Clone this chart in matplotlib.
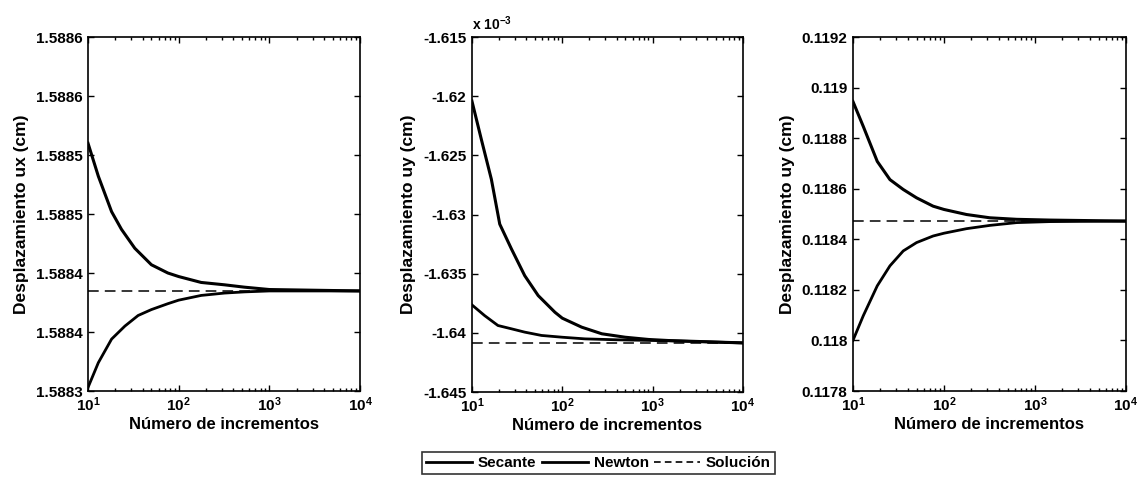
import numpy as np
import matplotlib
matplotlib.use('Agg')
import matplotlib.pyplot as plt
from matplotlib.lines import Line2D
from matplotlib.ticker import FixedLocator, FixedFormatter, LogLocator, NullFormatter

plt.rcParams['font.family'] = ['Liberation Sans', 'DejaVu Sans']
plt.rcParams['font.weight'] = 'bold'
plt.rcParams['mathtext.fontset'] = 'custom'
plt.rcParams['mathtext.rm'] = 'Liberation Sans:bold'
plt.rcParams['mathtext.bf'] = 'Liberation Sans:bold'
plt.rcParams['mathtext.it'] = 'Liberation Sans:bold'

# Panel 1: ux (cm)
ux_sec_x = [10, 13, 18.2, 23.4, 32.8, 50, 76, 100, 177, 320, 531, 1000, 10000]
ux_sec_y = [1.588510, 1.588482, 1.588452, 1.588437, 1.588421, 1.588407, 1.588400,
            1.588397, 1.588392, 1.588390, 1.588388, 1.588386, 1.5883848]
ux_new_x = [10, 13, 18.2, 25.5, 35.7, 50, 76, 100, 177, 320, 531, 1000, 10000]
ux_new_y = [1.588303, 1.588324, 1.588344, 1.588355, 1.588364, 1.588369, 1.588374,
            1.588377, 1.588381, 1.588383, 1.588384, 1.5883848, 1.5883848]
ux_sol = 1.5883848

# Panel 2: uy (cm), in units of 1e-3
uy1_sec_x = [10, 12.7, 16.4, 20.3, 27.4, 38.4, 54.1, 82.9, 100, 164, 274, 497, 903, 1507, 10000]
uy1_sec_y = [-1.62042, -1.62365, -1.62702, -1.63081, -1.63292, -1.63517, -1.63685,
             -1.63826, -1.63876, -1.63952, -1.64008, -1.64037, -1.64056, -1.64065, -1.64085]
uy1_new_x = [10, 13.8, 19.4, 27.4, 38.4, 58.9, 100, 179, 419, 1507, 10000]
uy1_new_y = [-1.63764, -1.63854, -1.63938, -1.63966, -1.63994, -1.64022, -1.64037,
             -1.64051, -1.64059, -1.64067, -1.64085]
uy1_sol = -1.64085

# Panel 3: uy (cm)
uy2_sec_x = [10, 13, 18.5, 25.5, 35.7, 50, 76, 100, 177, 320, 630, 1460, 10000]
uy2_sec_y = [0.118945, 0.118846, 0.118708, 0.118636, 0.118597, 0.118564, 0.118531,
             0.118518, 0.118498, 0.118485, 0.118479, 0.118476, 0.118472]
uy2_new_x = [10, 13, 18.5, 25.5, 35.7, 50, 76, 100, 177, 320, 630, 1460, 10000]
uy2_new_y = [0.118000, 0.118098, 0.118216, 0.118295, 0.118354, 0.118387, 0.118413,
             0.118424, 0.118442, 0.118455, 0.118466, 0.118470, 0.118472]
uy2_sol = 0.118472

x_label = 'Número de incrementos'
y_labels = ['Desplazamiento ux (cm)', 'Desplazamiento uy (cm)', 'Desplazamiento uy (cm)']
y_limits = [(1.5883, 1.5886), (-1.645, -1.615), (0.1178, 0.1192)]
y_ticks = [
    [1.5883, 1.58835, 1.5884, 1.58845, 1.5885, 1.58855, 1.5886],
    [-1.645, -1.64, -1.635, -1.63, -1.625, -1.62, -1.615],
    [0.1178, 0.118, 0.1182, 0.1184, 0.1186, 0.1188, 0.119, 0.1192],
]
y_ticklabels = [
    ['1.5883', '1.5884', '1.5884', '1.5885', '1.5885', '1.5886', '1.5886'],
    ['-1.645', '-1.64', '-1.635', '-1.63', '-1.625', '-1.62', '-1.615'],
    ['0.1178', '0.118', '0.1182', '0.1184', '0.1186', '0.1188', '0.119', '0.1192'],
]
x_ticks = [10, 100, 1000, 10000]
x_ticklabels = [r'$10^{1}$', r'$10^{2}$', r'$10^{3}$', r'$10^{4}$']

series = [
    (ux_sec_x, ux_sec_y, ux_new_x, ux_new_y, ux_sol),
    (uy1_sec_x, uy1_sec_y, uy1_new_x, uy1_new_y, uy1_sol),
    (uy2_sec_x, uy2_sec_y, uy2_new_x, uy2_new_y, uy2_sol),
]

fig = plt.figure(figsize=(11.4, 4.8), dpi=100)
positions = [
    [0.0772, 0.1854, 0.2386, 0.7375],
    [0.4140, 0.1833, 0.2377, 0.7396],
    [0.7482, 0.1854, 0.2395, 0.7375],
]

for i, (sx, sy, nx, ny, sol) in enumerate(series):
    ax = fig.add_axes(positions[i])
    ax.plot([10, 10000], [sol, sol], color='black', lw=1.1, ls=(0, (7, 4)))
    ax.plot(sx, sy, color='black', lw=2.2, solid_joinstyle='round')
    ax.plot(nx, ny, color='black', lw=2.0, solid_joinstyle='round')
    ax.set_xscale('log')
    ax.set_xlim(10, 10000)
    ax.set_ylim(*y_limits[i])
    ax.xaxis.set_major_locator(FixedLocator(x_ticks))
    ax.xaxis.set_major_formatter(FixedFormatter(x_ticklabels))
    ax.xaxis.set_minor_locator(LogLocator(base=10, subs=np.arange(2, 10)))
    ax.xaxis.set_minor_formatter(NullFormatter())
    ax.yaxis.set_major_locator(FixedLocator(y_ticks[i]))
    ax.yaxis.set_major_formatter(FixedFormatter(y_ticklabels[i]))
    ax.tick_params(which='both', direction='in', top=True, right=True, width=1.0)
    ax.tick_params(axis='y', labelsize=11, pad=4)
    ax.tick_params(axis='x', labelsize=11, pad=3)
    ax.tick_params(which='major', length=4)
    ax.tick_params(which='minor', length=2)
    for sp in ax.spines.values():
        sp.set_linewidth(1.2)
    ax.set_xlabel(x_label, fontsize=12, fontweight='bold', labelpad=2)
    ax.set_ylabel(y_labels[i], fontsize=12.5, fontweight='bold', labelpad=5)
    if i == 1:
        ax.text(0.0, 1.012, r'x 10$^{-3}$', transform=ax.transAxes,
                fontsize=10, fontweight='bold', ha='left', va='bottom')

handles = [
    Line2D([], [], color='black', lw=2.0),
    Line2D([], [], color='black', lw=2.0),
    Line2D([], [], color='black', lw=1.2, ls=(0, (4, 2.5))),
]
fig.legend(handles, ['Secante', 'Newton', 'Solución'], loc='upper center',
           bbox_to_anchor=(0.525, 0.058), ncol=3, frameon=True, fancybox=False,
           edgecolor='black', fontsize=11, handlelength=3.0, handletextpad=0.4,
           columnspacing=0.35, borderpad=0.25, borderaxespad=0.0)
fig.legends[0].get_frame().set_linewidth(1.2)

fig.savefig('out.png', dpi=100)
